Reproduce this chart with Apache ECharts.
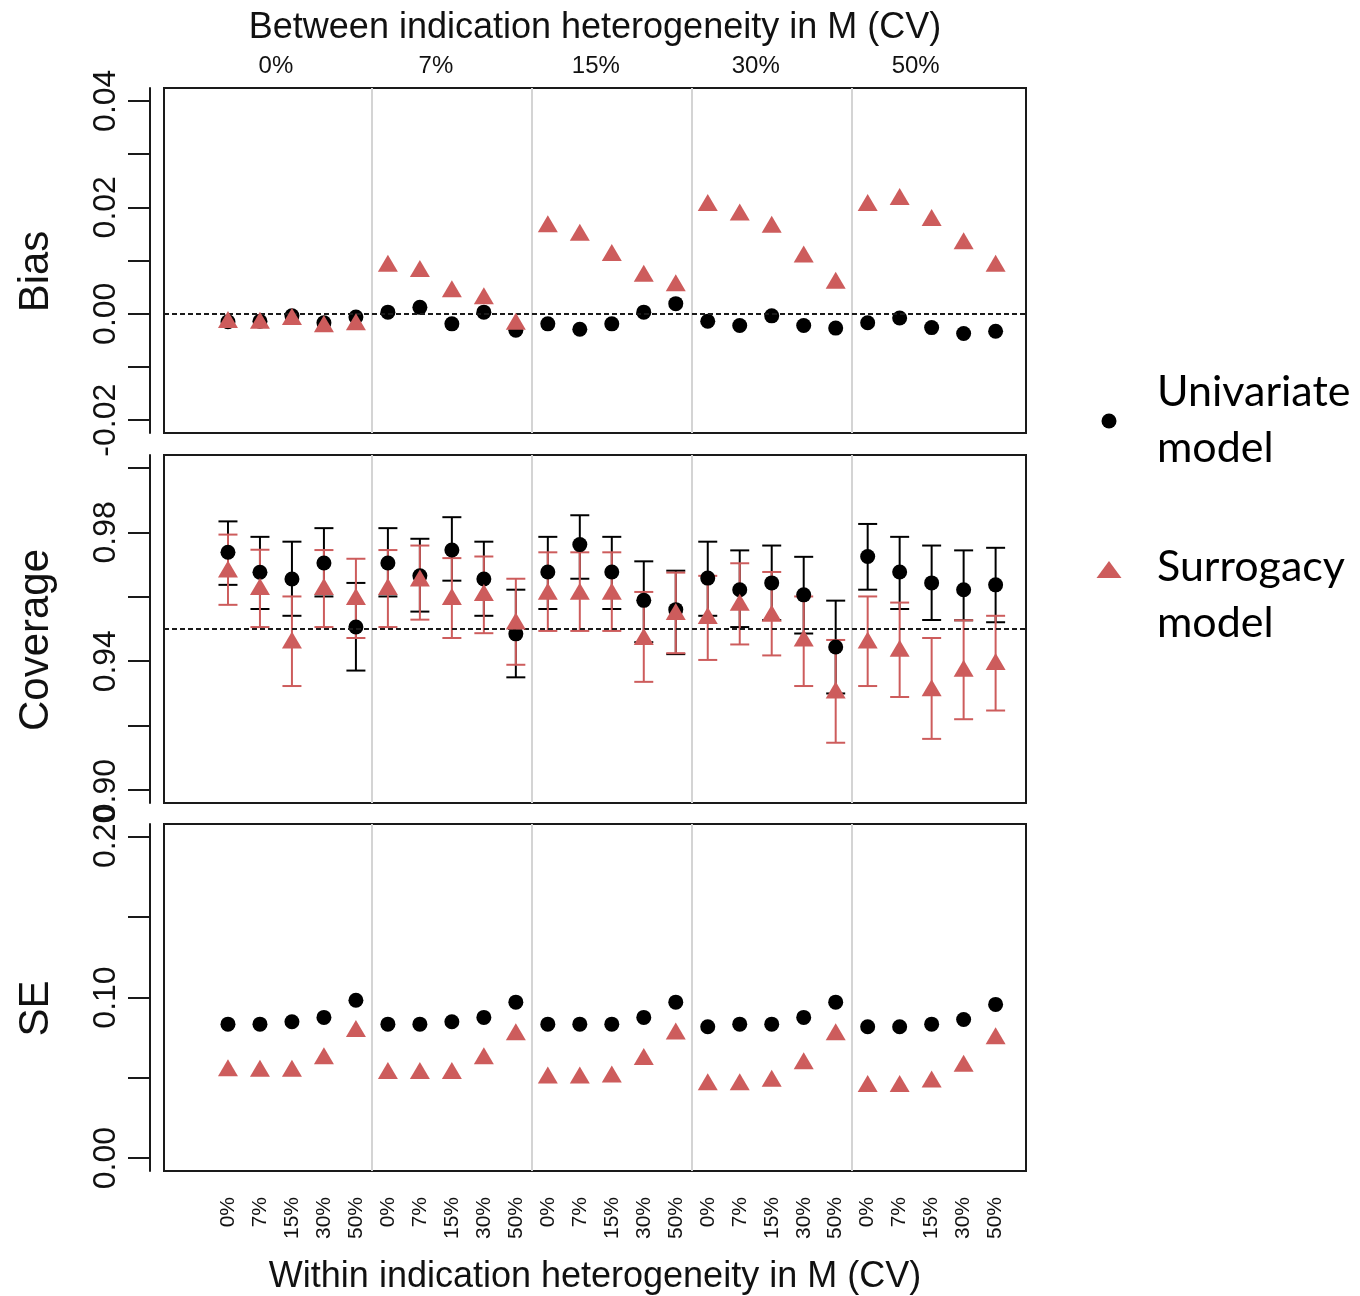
<!DOCTYPE html>
<html>
<head>
<meta charset="utf-8">
<script src="https://cdn.jsdelivr.net/npm/echarts@6/dist/echarts.min.js"></script>
<style>
  html, body { margin: 0; padding: 0; background: #fff; }
  #chart { width: 1360px; height: 1296px; }
</style>
</head>
<body>
<div id="chart"></div>
<script>
// Scenario labels: between-indication CV (groups) and within-indication CV (points in each group)
const betweenLabels = ['0%', '7%', '15%', '30%', '50%'];
const withinLabels = ['0%', '7%', '15%', '30%', '50%'];
const groupBreaks = [4.5, 9.5, 14.5, 19.5];

// Bias of the estimate
const biasUnivariate = [
  -0.0015, -0.0014, -0.0004, -0.0017, -0.0006,
   0.0003,  0.0012, -0.0019,  0.0003, -0.0031,
  -0.0019, -0.0029, -0.0019,  0.0003,  0.0019,
  -0.0014, -0.0022, -0.0004, -0.0022, -0.0027,
  -0.0017, -0.0008, -0.0026, -0.0037, -0.0033
];
const biasSurrogacy = [
  -0.0011, -0.0012, -0.0005, -0.0019, -0.0015,
   0.0095,  0.0085,  0.0047,  0.0034, -0.0014,
   0.0169,  0.0153,  0.0115,  0.0076,  0.0058,
   0.0209,  0.0191,  0.0168,  0.0112,  0.0063,
   0.0209,  0.0220,  0.0181,  0.0137,  0.0095
];

// Coverage with Monte Carlo interval
const covUnivariate = [
  0.9738, 0.9676, 0.9655, 0.9705, 0.9506,
  0.9705, 0.9665, 0.9745, 0.9655, 0.9485,
  0.9677, 0.9762, 0.9677, 0.9589, 0.9560,
  0.9658, 0.9622, 0.9643, 0.9606, 0.9444,
  0.9725, 0.9677, 0.9643, 0.9622, 0.9637
];
const covUnivariateLow = [
  0.9637, 0.9562, 0.9541, 0.9601, 0.9371,
  0.9601, 0.9554, 0.9650, 0.9541, 0.9350,
  0.9562, 0.9656, 0.9562, 0.9459, 0.9422,
  0.9541, 0.9506, 0.9528, 0.9486, 0.9300,
  0.9622, 0.9562, 0.9528, 0.9527, 0.9521
];
const covUnivariateHigh = [
  0.9834, 0.9786, 0.9771, 0.9813, 0.9643,
  0.9813, 0.9780, 0.9847, 0.9771, 0.9622,
  0.9786, 0.9853, 0.9786, 0.9710, 0.9681,
  0.9771, 0.9744, 0.9759, 0.9724, 0.9588,
  0.9826, 0.9786, 0.9759, 0.9744, 0.9752
];
const covSurrogacy = [
  0.9686, 0.9632, 0.9466, 0.9632, 0.9601,
  0.9632, 0.9658, 0.9601, 0.9613, 0.9525,
  0.9617, 0.9617, 0.9617, 0.9477, 0.9554,
  0.9542, 0.9583, 0.9549, 0.9472, 0.9311,
  0.9466, 0.9440, 0.9318, 0.9378, 0.9399
];
const covSurrogacyLow = [
  0.9575, 0.9506, 0.9323, 0.9506, 0.9472,
  0.9506, 0.9529, 0.9472, 0.9487, 0.9389,
  0.9494, 0.9494, 0.9494, 0.9336, 0.9425,
  0.9404, 0.9452, 0.9418, 0.9323, 0.9147,
  0.9323, 0.9289, 0.9159, 0.9220, 0.9247
];
const covSurrogacyHigh = [
  0.9793, 0.9746, 0.9601, 0.9745, 0.9718,
  0.9745, 0.9759, 0.9720, 0.9725, 0.9656,
  0.9738, 0.9738, 0.9738, 0.9615, 0.9675,
  0.9665, 0.9704, 0.9677, 0.9601, 0.9466,
  0.9601, 0.9582, 0.9472, 0.9527, 0.9541
];

// Standard error
const seUnivariate = [
  0.0834, 0.0834, 0.0849, 0.0876, 0.0983,
  0.0834, 0.0834, 0.0849, 0.0876, 0.0971,
  0.0834, 0.0834, 0.0834, 0.0876, 0.0971,
  0.0818, 0.0834, 0.0834, 0.0876, 0.0971,
  0.0818, 0.0818, 0.0834, 0.0863, 0.0957
];
const seSurrogacy = [
  0.0563, 0.0559, 0.0559, 0.0638, 0.0807,
  0.0545, 0.0545, 0.0545, 0.0638, 0.0787,
  0.0518, 0.0518, 0.0524, 0.0632, 0.0791,
  0.0476, 0.0476, 0.0497, 0.0607, 0.0787,
  0.0464, 0.0464, 0.0493, 0.0590, 0.0762
];

// Axis ticks and labels
const biasTicks = [-0.02, -0.01, 0, 0.01, 0.02, 0.03, 0.04];
const biasTickLabels = [-0.02, 0, 0.02, 0.04];
const covTicks = [0.90, 0.92, 0.94, 0.96, 0.98, 1.00];
const covTickLabels = [0.90, 0.94, 0.98];
const seTicks = [0, 0.05, 0.10, 0.15, 0.20];
const seTickLabels = [0, 0.10, 0.20];

const BLACK = '#000000';
const RED = '#CD5C5C';
const TXT = '#111111';
const FONT = '"Liberation Sans", Arial, sans-serif';

const nPoints = biasUnivariate.length;
const pointIdx = Array.from({ length: nPoints }, (_, i) => i);
const groupCenters = betweenLabels.map((_, g) => g * withinLabels.length + 1.5);

const pairs = arr => arr.map((v, i) => [i, v]);
const triples = (lo, hi) => lo.map((v, i) => [i, v, hi[i]]);

function errorBars(color) {
  return function (params, api) {
    const x = api.value(0);
    const lo = api.coord([x, api.value(1)]);
    const hi = api.coord([x, api.value(2)]);
    const hw = 9.5;
    const st = { stroke: color, lineWidth: 2 };
    return {
      type: 'group',
      children: [
        { type: 'line', shape: { x1: lo[0], y1: lo[1], x2: hi[0], y2: hi[1] }, style: st },
        { type: 'line', shape: { x1: lo[0] - hw, y1: lo[1], x2: lo[0] + hw, y2: lo[1] }, style: st },
        { type: 'line', shape: { x1: hi[0] - hw, y1: hi[1], x2: hi[0] + hw, y2: hi[1] }, style: st }
      ]
    };
  };
}

const GRID_LEFT = 164, GRID_W = 862;
const grids = [
  { left: GRID_LEFT, top: 88, width: GRID_W, height: 345 },
  { left: GRID_LEFT, top: 455, width: GRID_W, height: 348 },
  { left: GRID_LEFT, top: 824, width: GRID_W, height: 348 }
].map(g => Object.assign({ show: true, borderColor: '#1a1a1a', borderWidth: 2, backgroundColor: 'transparent' }, g));

const xBase = {
  type: 'value', min: -2, max: 24.95,
  axisLine: { show: false, onZero: false }, axisTick: { show: false },
  splitLine: { show: false }
};

const xAxes = [
  Object.assign({}, xBase, {
    gridIndex: 0, position: 'top',
    axisLabel: {
      customValues: groupCenters,
      formatter: v => betweenLabels[Math.round((v - 1.5) / withinLabels.length)],
      fontSize: 24, color: TXT, fontFamily: FONT, margin: 10
    },
    name: 'Between indication heterogeneity in M (CV)',
    nameLocation: 'middle', nameGap: 42,
    nameTextStyle: { fontSize: 36, color: TXT, fontFamily: FONT }
  }),
  Object.assign({}, xBase, { gridIndex: 1, axisLabel: { show: false } }),
  Object.assign({}, xBase, {
    gridIndex: 2, position: 'bottom',
    axisLabel: {
      customValues: pointIdx,
      formatter: v => withinLabels[Math.round(v) % withinLabels.length],
      rotate: 90, fontSize: 21, color: TXT, fontFamily: FONT, margin: 26
    },
    name: 'Within indication heterogeneity in M (CV)',
    nameLocation: 'middle', nameGap: 88,
    nameTextStyle: { fontSize: 36, color: TXT, fontFamily: FONT }
  })
];

function yAxisFor(idx, min, max, ticks, labels, title) {
  return {
    type: 'value', gridIndex: idx, min: min, max: max, position: 'left', offset: 14,
    axisLine: { show: true, onZero: false, lineStyle: { color: '#1a1a1a', width: 2 } },
    axisTick: { show: true, customValues: ticks, length: 22, lineStyle: { color: '#1a1a1a', width: 2 } },
    axisLabel: {
      customValues: labels, formatter: v => v.toFixed(2),
      rotate: 90, fontSize: 32, color: TXT, fontFamily: FONT, margin: 28
    },
    splitLine: { show: false },
    name: title, nameLocation: 'middle', nameRotate: 90, nameGap: 93,
    nameTextStyle: { fontSize: 42, color: TXT, fontFamily: FONT, padding: [0, 22, 0, 0] }
  };
}

const yAxes = [
  yAxisFor(0, -0.0224, 0.0424, biasTicks, biasTickLabels, 'Bias'),
  yAxisFor(1, 0.896, 1.004, covTicks, covTickLabels, 'Coverage'),
  yAxisFor(2, -0.008, 0.208, seTicks, seTickLabels, 'SE')
];

function guideSeries(idx, refValue) {
  const data = groupBreaks.map(b => ({ xAxis: b, lineStyle: { color: '#d4d4d4', width: 2, type: 'solid' } }));
  if (refValue !== null) {
    data.push({ yAxis: refValue, lineStyle: { color: '#1a1a1a', width: 2, type: [5, 3] } });
  }
  return {
    type: 'line', xAxisIndex: idx, yAxisIndex: idx, data: [], z: 1, silent: true,
    markLine: { symbol: 'none', silent: true, label: { show: false }, animation: false, data: data }
  };
}

function scatter(idx, values, model) {
  const isUni = model === 'uni';
  return {
    type: 'scatter', xAxisIndex: idx, yAxisIndex: idx,
    data: pairs(values),
    symbol: isUni ? 'circle' : 'triangle',
    symbolSize: isUni ? 15 : [20, 17],
    itemStyle: { color: isUni ? BLACK : RED, opacity: 1 },
    z: isUni ? 4 : 5, silent: true
  };
}

function bars(idx, lo, hi, color, z) {
  return {
    type: 'custom', xAxisIndex: idx, yAxisIndex: idx,
    data: triples(lo, hi), renderItem: errorBars(color), z: z, silent: true
  };
}

const series = [
  guideSeries(0, 0),
  guideSeries(1, 0.95),
  guideSeries(2, null),
  scatter(0, biasUnivariate, 'uni'),
  scatter(0, biasSurrogacy, 'sur'),
  bars(1, covUnivariateLow, covUnivariateHigh, BLACK, 2),
  bars(1, covSurrogacyLow, covSurrogacyHigh, RED, 3),
  scatter(1, covUnivariate, 'uni'),
  scatter(1, covSurrogacy, 'sur'),
  scatter(2, seUnivariate, 'uni'),
  scatter(2, seSurrogacy, 'sur')
];

// Legend drawn at the right side, two-line entries
const LEG_FONT = 'Lato, "Open Sans", sans-serif';
const legendText = (txt, y) => ({
  type: 'text', left: 1157, top: y,
  style: { text: txt, fontSize: 43, fontFamily: LEG_FONT, fill: '#000' }
});
const graphic = [
  { type: 'circle', shape: { cx: 1109, cy: 421, r: 7.5 }, style: { fill: BLACK } },
  { type: 'polygon', shape: { points: [[1109, 561], [1121.5, 578], [1096.5, 578]] }, style: { fill: RED } },
  legendText('Univariate', 371),
  legendText('model', 427),
  legendText('Surrogacy', 546),
  legendText('model', 602)
];

const chart = echarts.init(document.getElementById('chart'), null, { renderer: 'canvas' });
chart.setOption({
  animation: false,
  backgroundColor: '#ffffff',
  grid: grids,
  xAxis: xAxes,
  yAxis: yAxes,
  series: series,
  graphic: graphic
});
</script>
</body>
</html>
